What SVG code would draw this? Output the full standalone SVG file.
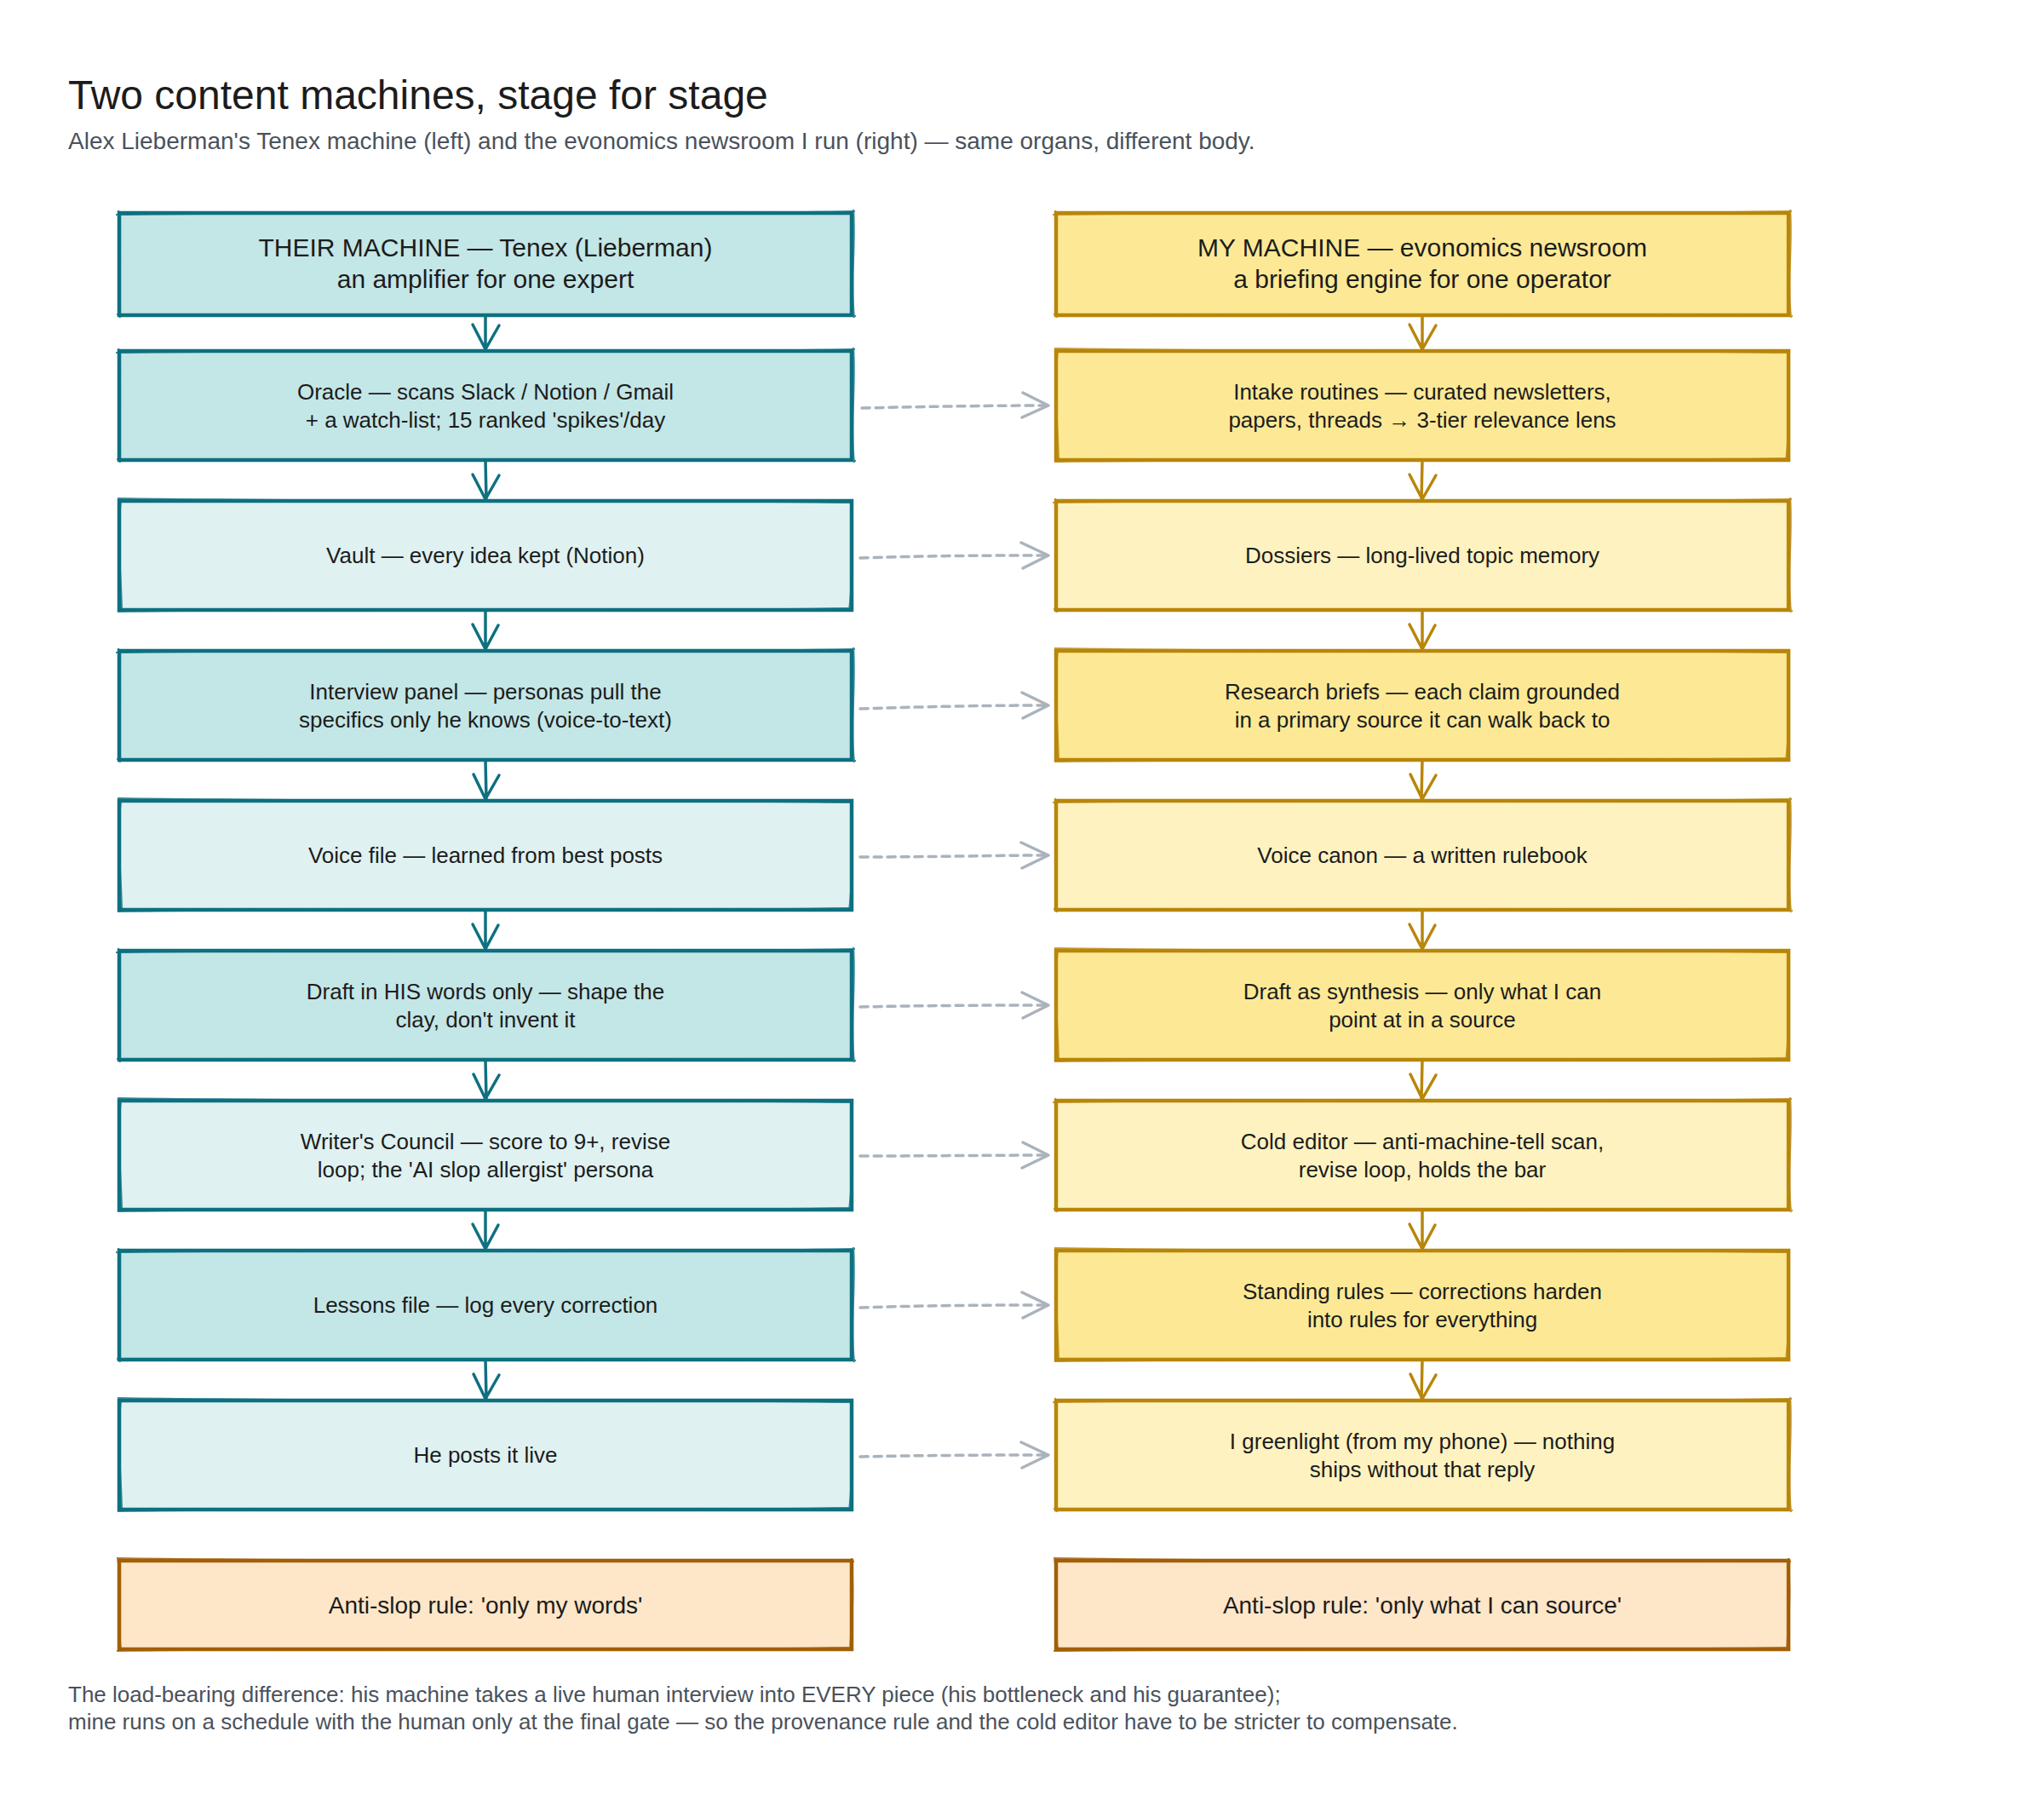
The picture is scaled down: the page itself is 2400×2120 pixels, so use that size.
<svg xmlns="http://www.w3.org/2000/svg" xmlns:xlink="http://www.w3.org/1999/xlink" width="2400" height="2120" viewBox="0 0 2400 2120">
<style>
  text { font-family: "Liberation Sans", Arial, sans-serif; fill: #1c1c1c; }
  .title { font-size: 48px; fill: #1c1c1c; }
  .sub { font-size: 28px; fill: #4a525c; }
  .foot { font-size: 26px; fill: #4a525c; }
  .hd { font-size: 30px; text-anchor: middle; }
  .bt { font-size: 26px; text-anchor: middle; }
  .at { font-size: 28px; text-anchor: middle; }
  .tealA { fill: #c3e6e6; stroke: #0e7080; stroke-width: 4.5; }
  .tealB { fill: #dff1f1; stroke: #0e7080; stroke-width: 4.5; }
  .goldA { fill: #fde995; stroke: #b8860b; stroke-width: 4.5; }
  .goldB { fill: #fef2c0; stroke: #b8860b; stroke-width: 4.5; }
  .peach { fill: #fee6c8; stroke: #a25f08; stroke-width: 4.5; }
  .skT { stroke: #0e7080; stroke-width: 2.2; fill: none; opacity: 0.8; }
  .skG { stroke: #b8860b; stroke-width: 2.2; fill: none; opacity: 0.8; }
  .skP { stroke: #a25f08; stroke-width: 2.2; fill: none; opacity: 0.8; }
  .vT { stroke: #0e7080; stroke-width: 3.5; fill: none; stroke-linecap: round; stroke-linejoin: round; }
  .vG { stroke: #b8860b; stroke-width: 3.5; fill: none; stroke-linecap: round; stroke-linejoin: round; }
  .dsh { stroke: #aab3bc; stroke-width: 3.5; fill: none; stroke-dasharray: 9 7; stroke-linecap: round; }
  .dhd { stroke: #aab3bc; stroke-width: 3.5; fill: none; stroke-linecap: round; stroke-linejoin: round; }
</style>
<defs>
  <path id="sk" d="M-4,2 C250,-3 600,3 864,-2 M862,-4 C865,40 858,90 863,131 M865,129 C600,125 250,132 -3,127 M1,131 C-4,90 4,40 -1,-3"/>
  <path id="sk2" d="M-2,-3 C300,2 650,-2 862,2 M859,-2 C862,50 861,95 857,130 M861,126 C550,131 200,126 -2,130 M3,129 C2,85 -3,45 2,-2"/>
  <path id="skh" d="M-4,2 C250,-3 600,3 864,-2 M862,-4 C865,40 858,80 863,123 M865,121 C600,117 250,124 -3,119 M1,123 C-4,80 4,40 -1,-3"/>
  <path id="ska" d="M-3,-3 C300,2 650,-2 863,1 M860,-3 C863,40 860,75 858,106 M862,102 C550,107 200,102 -3,106 M2,105 C-3,70 4,30 -2,-4"/>
</defs>

<text class="title" x="80" y="128">Two content machines, stage for stage</text>
<text class="sub" x="80" y="175">Alex Lieberman's Tenex machine (left) and the evonomics newsroom I run (right) — same organs, different body.</text>

<g id="connectors">
  <!-- left vertical -->
  <path class="vT" d="M570,370 L570,410 M555,381 L570,410 L586,382"/>
  <path class="vT" d="M570,540 L571,586 M555,557 L570,586 L586,558"/>
  <path class="vT" d="M570,716 L570,762 M555,733 L570,762 L585,734"/>
  <path class="vT" d="M570,892 L571,938 M556,909 L570,938 L586,910"/>
  <path class="vT" d="M570,1068 L570,1114 M555,1085 L570,1114 L585,1086"/>
  <path class="vT" d="M570,1244 L571,1290 M556,1261 L570,1290 L586,1262"/>
  <path class="vT" d="M570,1420 L570,1466 M555,1437 L570,1466 L585,1438"/>
  <path class="vT" d="M570,1596 L571,1642 M556,1613 L570,1642 L586,1614"/>
  <!-- right vertical -->
  <path class="vG" d="M1670,370 L1670,410 M1655,381 L1670,410 L1686,382"/>
  <path class="vG" d="M1670,540 L1669,586 M1655,557 L1670,586 L1686,558"/>
  <path class="vG" d="M1670,716 L1670,762 M1655,733 L1670,762 L1685,734"/>
  <path class="vG" d="M1670,892 L1669,938 M1656,909 L1670,938 L1686,910"/>
  <path class="vG" d="M1670,1068 L1670,1114 M1655,1085 L1670,1114 L1685,1086"/>
  <path class="vG" d="M1670,1244 L1669,1290 M1656,1261 L1670,1290 L1686,1262"/>
  <path class="vG" d="M1670,1420 L1670,1466 M1655,1437 L1670,1466 L1685,1438"/>
  <path class="vG" d="M1670,1596 L1669,1642 M1656,1613 L1670,1642 L1686,1614"/>
  <!-- dashed cross links -->
  <path class="dsh" d="M1012,479 C1100,477 1170,476 1230,476"/>
  <path class="dhd" d="M1201,461 L1231,476 L1200,490"/>
  <path class="dsh" d="M1010,655 C1100,652 1170,652 1230,652"/>
  <path class="dhd" d="M1199,637 L1231,652 L1201,667"/>
  <path class="dsh" d="M1010,832 C1100,829 1170,828 1230,828"/>
  <path class="dhd" d="M1200,813 L1231,828 L1201,843"/>
  <path class="dsh" d="M1010,1006 C1100,1006 1170,1004 1230,1004"/>
  <path class="dhd" d="M1199,989 L1231,1004 L1200,1019"/>
  <path class="dsh" d="M1010,1182 C1100,1180 1170,1180 1230,1180"/>
  <path class="dhd" d="M1200,1165 L1231,1180 L1201,1195"/>
  <path class="dsh" d="M1010,1357 C1100,1357 1170,1356 1230,1356"/>
  <path class="dhd" d="M1201,1341 L1231,1356 L1200,1371"/>
  <path class="dsh" d="M1010,1535 C1100,1532 1170,1532 1230,1532"/>
  <path class="dhd" d="M1200,1517 L1231,1532 L1201,1547"/>
  <path class="dsh" d="M1010,1710 C1100,1708 1170,1708 1230,1708"/>
  <path class="dhd" d="M1199,1693 L1231,1708 L1200,1723"/>
</g>

<!-- LEFT COLUMN -->
<g id="their-header">
  <rect class="tealA" x="140" y="250" width="860" height="120"/>
  <use xlink:href="#skh" href="#skh" class="skT" x="140" y="250"/>
  <text class="hd" x="570" y="301">THEIR MACHINE — Tenex (Lieberman)</text>
  <text class="hd" x="570" y="338">an amplifier for one expert</text>
</g>
<g id="oracle">
  <rect class="tealA" x="140" y="412" width="860" height="128"/>
  <use xlink:href="#sk" href="#sk" class="skT" x="140" y="412"/>
  <text class="bt" x="570" y="469">Oracle — scans Slack / Notion / Gmail</text>
  <text class="bt" x="570" y="502">+ a watch-list; 15 ranked 'spikes'/day</text>
</g>
<g id="vault">
  <rect class="tealB" x="140" y="588" width="860" height="128"/>
  <use xlink:href="#sk2" href="#sk2" class="skT" x="140" y="588"/>
  <text class="bt" x="570" y="661">Vault — every idea kept (Notion)</text>
</g>
<g id="interview">
  <rect class="tealA" x="140" y="764" width="860" height="128"/>
  <use xlink:href="#sk" href="#sk" class="skT" x="140" y="764"/>
  <text class="bt" x="570" y="821">Interview panel — personas pull the</text>
  <text class="bt" x="570" y="854">specifics only he knows (voice-to-text)</text>
</g>
<g id="voice-file">
  <rect class="tealB" x="140" y="940" width="860" height="128"/>
  <use xlink:href="#sk2" href="#sk2" class="skT" x="140" y="940"/>
  <text class="bt" x="570" y="1013">Voice file — learned from best posts</text>
</g>
<g id="draft-his">
  <rect class="tealA" x="140" y="1116" width="860" height="128"/>
  <use xlink:href="#sk" href="#sk" class="skT" x="140" y="1116"/>
  <text class="bt" x="570" y="1173">Draft in HIS words only — shape the</text>
  <text class="bt" x="570" y="1206">clay, don't invent it</text>
</g>
<g id="writers-council">
  <rect class="tealB" x="140" y="1292" width="860" height="128"/>
  <use xlink:href="#sk2" href="#sk2" class="skT" x="140" y="1292"/>
  <text class="bt" x="570" y="1349">Writer's Council — score to 9+, revise</text>
  <text class="bt" x="570" y="1382">loop; the 'AI slop allergist' persona</text>
</g>
<g id="lessons">
  <rect class="tealA" x="140" y="1468" width="860" height="128"/>
  <use xlink:href="#sk" href="#sk" class="skT" x="140" y="1468"/>
  <text class="bt" x="570" y="1541">Lessons file — log every correction</text>
</g>
<g id="posts-live">
  <rect class="tealB" x="140" y="1644" width="860" height="128"/>
  <use xlink:href="#sk2" href="#sk2" class="skT" x="140" y="1644"/>
  <text class="bt" x="570" y="1717">He posts it live</text>
</g>
<g id="their-rule">
  <rect class="peach" x="140" y="1832" width="860" height="104"/>
  <use xlink:href="#ska" href="#ska" class="skP" x="140" y="1832"/>
  <text class="at" x="570" y="1894">Anti-slop rule: 'only my words'</text>
</g>

<!-- RIGHT COLUMN -->
<g id="my-header">
  <rect class="goldA" x="1240" y="250" width="860" height="120"/>
  <use xlink:href="#skh" href="#skh" class="skG" x="1240" y="250"/>
  <text class="hd" x="1670" y="301">MY MACHINE — evonomics newsroom</text>
  <text class="hd" x="1670" y="338">a briefing engine for one operator</text>
</g>
<g id="intake">
  <rect class="goldA" x="1240" y="412" width="860" height="128"/>
  <use xlink:href="#sk2" href="#sk2" class="skG" x="1240" y="412"/>
  <text class="bt" x="1670" y="469">Intake routines — curated newsletters,</text>
  <text class="bt" x="1670" y="502">papers, threads → 3-tier relevance lens</text>
</g>
<g id="dossiers">
  <rect class="goldB" x="1240" y="588" width="860" height="128"/>
  <use xlink:href="#sk" href="#sk" class="skG" x="1240" y="588"/>
  <text class="bt" x="1670" y="661">Dossiers — long-lived topic memory</text>
</g>
<g id="research">
  <rect class="goldA" x="1240" y="764" width="860" height="128"/>
  <use xlink:href="#sk2" href="#sk2" class="skG" x="1240" y="764"/>
  <text class="bt" x="1670" y="821">Research briefs — each claim grounded</text>
  <text class="bt" x="1670" y="854">in a primary source it can walk back to</text>
</g>
<g id="voice-canon">
  <rect class="goldB" x="1240" y="940" width="860" height="128"/>
  <use xlink:href="#sk" href="#sk" class="skG" x="1240" y="940"/>
  <text class="bt" x="1670" y="1013">Voice canon — a written rulebook</text>
</g>
<g id="draft-synthesis">
  <rect class="goldA" x="1240" y="1116" width="860" height="128"/>
  <use xlink:href="#sk2" href="#sk2" class="skG" x="1240" y="1116"/>
  <text class="bt" x="1670" y="1173">Draft as synthesis — only what I can</text>
  <text class="bt" x="1670" y="1206">point at in a source</text>
</g>
<g id="cold-editor">
  <rect class="goldB" x="1240" y="1292" width="860" height="128"/>
  <use xlink:href="#sk" href="#sk" class="skG" x="1240" y="1292"/>
  <text class="bt" x="1670" y="1349">Cold editor — anti-machine-tell scan,</text>
  <text class="bt" x="1670" y="1382">revise loop, holds the bar</text>
</g>
<g id="standing-rules">
  <rect class="goldA" x="1240" y="1468" width="860" height="128"/>
  <use xlink:href="#sk2" href="#sk2" class="skG" x="1240" y="1468"/>
  <text class="bt" x="1670" y="1525">Standing rules — corrections harden</text>
  <text class="bt" x="1670" y="1558">into rules for everything</text>
</g>
<g id="greenlight">
  <rect class="goldB" x="1240" y="1644" width="860" height="128"/>
  <use xlink:href="#sk" href="#sk" class="skG" x="1240" y="1644"/>
  <text class="bt" x="1670" y="1701">I greenlight (from my phone) — nothing</text>
  <text class="bt" x="1670" y="1734">ships without that reply</text>
</g>
<g id="my-rule">
  <rect class="peach" x="1240" y="1832" width="860" height="104"/>
  <use xlink:href="#ska" href="#ska" class="skP" x="1240" y="1832"/>
  <text class="at" x="1670" y="1894">Anti-slop rule: 'only what I can source'</text>
</g>

<text class="foot" x="80" y="1998">The load-bearing difference: his machine takes a live human interview into EVERY piece (his bottleneck and his guarantee);</text>
<text class="foot" x="80" y="2030">mine runs on a schedule with the human only at the final gate — so the provenance rule and the cold editor have to be stricter to compensate.</text>
</svg>
